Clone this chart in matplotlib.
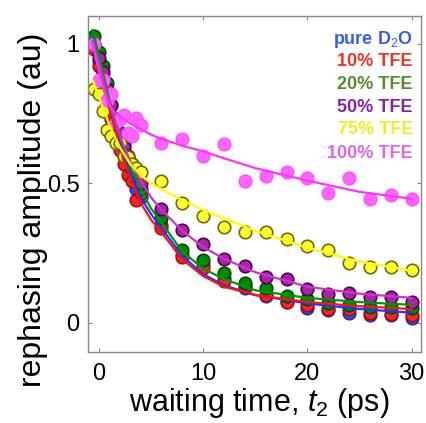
import matplotlib
matplotlib.use("Agg")
import matplotlib.pyplot as plt

plt.rcParams['font.family'] = ['Liberation Sans', 'DejaVu Sans']
plt.rcParams['mathtext.fontset'] = 'custom'
plt.rcParams['mathtext.rm'] = 'Liberation Sans'
plt.rcParams['mathtext.it'] = 'Liberation Sans:italic'
plt.rcParams['mathtext.bf'] = 'Liberation Sans:bold'

# ---- data ----
t_data = [-0.5, 0, 0.4, 0.8, 1.2, 1.6, 2.0, 2.4, 2.8, 3.2, 3.6, 4.0,
          6, 8, 10, 12, 14, 16, 18, 20, 22, 24, 26, 28, 30]

d2o = [1.0, 0.94, 0.87, 0.80, 0.74, 0.70, 0.64, 0.60, 0.56, 0.52, 0.48, 0.45,
       0.35, 0.245, 0.21, 0.16, 0.125, 0.095, 0.075, 0.054, 0.047, 0.036, 0.03, 0.03, 0.018]
tfe10 = [0.98, 0.92, 0.85, 0.79, 0.73, 0.66, 0.62, 0.57, 0.53, 0.51, 0.44, 0.466,
         0.34, 0.237, 0.197, 0.15, 0.133, 0.10, 0.075, 0.065, 0.05, 0.05, 0.036, 0.032, 0.03]
tfe20 = [1.03, 0.97, 0.92, 0.86, 0.78, 0.73, 0.68, 0.64, 0.59, 0.55, 0.52, 0.48,
         0.377, 0.262, 0.226, 0.18, 0.143, 0.125, 0.097, 0.086, 0.072, 0.065, 0.058, 0.058, 0.054]
tfe50 = [1.0, 0.95, 0.90, 0.84, 0.78, 0.72, 0.68, 0.63, 0.60, 0.57, 0.54, 0.50,
         0.41, 0.333, 0.283, 0.23, 0.204, 0.165, 0.158, 0.12, 0.104, 0.107, 0.093, 0.093, 0.075]
tfe75 = [0.84, 0.82, 0.76, 0.69, 0.67, 0.645, 0.645, 0.60, 0.595, 0.57, 0.556, 0.54,
         0.51, 0.43, 0.383, 0.344, 0.326, 0.326, 0.30, 0.276, 0.26, 0.215, 0.2, 0.2, 0.19]
tfe100 = [1.0, 0.87, 0.87, 0.80, 0.82, 0.72, 0.73, 0.745, 0.68, 0.67, 0.735, 0.71,
          0.645, 0.66, 0.60, 0.64, 0.51, 0.527, 0.54, 0.52, 0.466, 0.52, 0.445, 0.46, 0.445]

t_fit = [-0.6, 0, 0.5, 1, 1.5, 2, 3, 4, 5, 6, 8, 10, 12, 15, 20, 25, 30]
fit_d2o = [1.04, 0.95, 0.87, 0.79, 0.72, 0.65, 0.54, 0.45, 0.39, 0.34, 0.24, 0.175, 0.135, 0.10, 0.07, 0.05, 0.037]
fit_10 = [1.0, 0.93, 0.85, 0.77, 0.70, 0.63, 0.52, 0.43, 0.37, 0.325, 0.228, 0.168, 0.13, 0.10, 0.075, 0.06, 0.05]
fit_20 = [1.05, 0.96, 0.88, 0.80, 0.73, 0.67, 0.56, 0.48, 0.41, 0.36, 0.255, 0.195, 0.157, 0.117, 0.09, 0.075, 0.065]
fit_50 = [1.01, 0.93, 0.86, 0.79, 0.73, 0.67, 0.58, 0.51, 0.45, 0.405, 0.33, 0.272, 0.23, 0.182, 0.13, 0.105, 0.09]
fit_75 = [0.87, 0.81, 0.76, 0.71, 0.67, 0.63, 0.57, 0.53, 0.50, 0.48, 0.44, 0.405, 0.375, 0.33, 0.27, 0.22, 0.187]
fit_100 = [1.0, 0.90, 0.83, 0.78, 0.755, 0.74, 0.715, 0.695, 0.675, 0.66, 0.635, 0.615, 0.59, 0.555, 0.51, 0.47, 0.445]

labels = [r'pure D$_2$O', '10% TFE', '20% TFE', '50% TFE', '75% TFE', '100% TFE']
x_ticks = [0, 10, 20, 30]
y_ticks = [0, 0.5, 1]
y_tick_labels = ['0', '0.5', '1']

# ---- style ----
series = [d2o, tfe10, tfe20, tfe50, tfe75, tfe100]
fits = [fit_d2o, fit_10, fit_20, fit_50, fit_75, fit_100]
face = ['#3344ff', '#ff2222', '#008a00', '#aa22aa', '#ffff33', '#ff66ff']
edge = ['#2a2aa0', '#a01010', '#004a00', '#500050', '#6e6e00', '#ff55ff']
linec = ['#2233ff', '#ff1111', '#009900', '#cc33cc', '#ffff00', '#ff33ff']
textc = ['#3a5fd9', '#ee3322', '#5a8a30', '#8822aa', '#eeee22', '#dd66ee']

fig = plt.figure(figsize=(4.27, 4.23), dpi=100)
ax = fig.add_axes([88/427, (423-352)/423, (421-88)/427, (352-16)/423])

for i, (y, f) in enumerate(zip(series, fits)):
    ax.plot(t_data, y, 'o', ms=9, mfc=face[i], mec=edge[i], mew=1.2, zorder=2 + i*0.1)
for i, f in enumerate(fits):
    ax.plot(t_fit, f, '-', color=linec[i], lw=1.6, zorder=3 + i*0.1)

ax.set_xlim(-1.05, 30.9)
ax.set_ylim(-0.104, 1.1)
ax.set_xticks(x_ticks)
ax.set_yticks(y_ticks)
ax.set_yticklabels(y_tick_labels)
ax.tick_params(direction='in', length=3, width=0.8, color='#888888',
               labelsize=17, top=True, right=True)
ax.tick_params(axis='x', pad=8)
ax.tick_params(axis='y', pad=6)
for s in ax.spines.values():
    s.set_color('#888888')
    s.set_linewidth(1.0)

# colored legend text
ys = [39, 62, 84, 107, 130, 153]
for lab, yy, c in zip(labels, ys, textc):
    fig.text(413/427, 1 - yy/423, lab, color=c, fontsize=13, fontweight='bold',
             ha='right', va='center')

fig.text(259/427, 1 - 403/423, r'waiting time, $t_2$ (ps)', fontsize=22,
         ha='center', va='center')
fig.text(33/427, 1 - 210/423, 'rephasing amplitude (au)', fontsize=23,
         ha='center', va='center', rotation=90)

fig.savefig('out.png', dpi=100)
